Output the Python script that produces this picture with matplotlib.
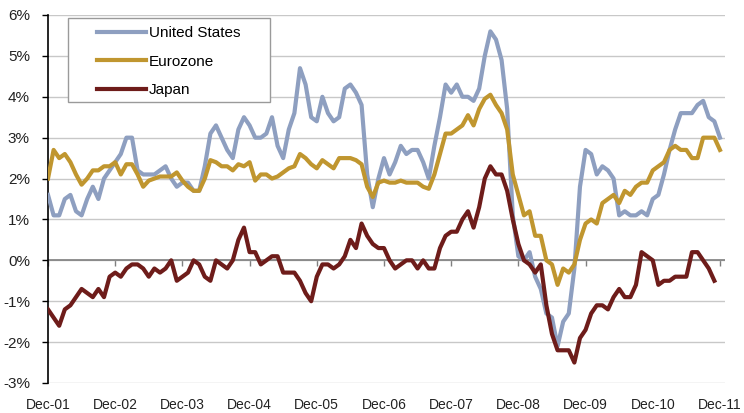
import matplotlib
matplotlib.use("Agg")
import matplotlib.pyplot as plt
from matplotlib.patches import Rectangle
import numpy as np

# monthly year-on-year inflation, Dec-01 .. Dec-11 (%)
us = [1.6,
      1.1, 1.1, 1.5, 1.6, 1.2, 1.1, 1.5, 1.8, 1.5, 2.0, 2.2, 2.4,
      2.6, 3.0, 3.0, 2.2, 2.1, 2.1, 2.1, 2.2, 2.3, 2.0, 1.8, 1.9,
      1.9, 1.7, 1.7, 2.3, 3.1, 3.3, 3.0, 2.7, 2.5, 3.2, 3.5, 3.3,
      3.0, 3.0, 3.1, 3.5, 2.8, 2.5, 3.2, 3.6, 4.7, 4.3, 3.5, 3.4,
      4.0, 3.6, 3.4, 3.5, 4.2, 4.3, 4.1, 3.8, 2.1, 1.3, 2.0, 2.5,
      2.1, 2.4, 2.8, 2.6, 2.7, 2.7, 2.4, 2.0, 2.8, 3.5, 4.3, 4.1,
      4.3, 4.0, 4.0, 3.9, 4.2, 5.0, 5.6, 5.4, 4.9, 3.7, 1.1, 0.1,
      0.0, 0.2, -0.4, -0.7, -1.3, -1.4, -2.1, -1.5, -1.3, -0.2, 1.8, 2.7,
      2.6, 2.1, 2.3, 2.2, 2.0, 1.1, 1.2, 1.1, 1.1, 1.2, 1.1, 1.5,
      1.6, 2.1, 2.7, 3.2, 3.6, 3.6, 3.6, 3.8, 3.9, 3.5, 3.4, 3.0]

eurozone = [2.0,
            2.7, 2.5, 2.6, 2.4, 2.1, 1.85, 2.0, 2.2, 2.2, 2.3, 2.3, 2.4,
            2.1, 2.35, 2.35, 2.1, 1.8, 1.95, 2.0, 2.05, 2.05, 2.05, 2.15, 1.95,
            1.8, 1.7, 1.7, 2.0, 2.45, 2.4, 2.3, 2.3, 2.2, 2.35, 2.3, 2.4,
            1.95, 2.1, 2.1, 2.0, 2.05, 2.15, 2.25, 2.3, 2.6, 2.5, 2.35, 2.25,
            2.45, 2.35, 2.25, 2.5, 2.5, 2.5, 2.45, 2.35, 1.8, 1.55, 1.9, 1.95,
            1.9, 1.9, 1.95, 1.9, 1.9, 1.9, 1.8, 1.75, 2.1, 2.6, 3.1, 3.1,
            3.2, 3.3, 3.55, 3.3, 3.7, 3.95, 4.05, 3.8, 3.6, 3.2, 2.1, 1.6,
            1.1, 1.2, 0.6, 0.6, 0.0, -0.1, -0.6, -0.2, -0.3, -0.1, 0.5, 0.9,
            1.0, 0.9, 1.4, 1.5, 1.6, 1.4, 1.7, 1.6, 1.8, 1.9, 1.9, 2.2,
            2.3, 2.4, 2.7, 2.8, 2.7, 2.7, 2.5, 2.5, 3.0, 3.0, 3.0, 2.7]

japan = [-1.2,
         -1.4, -1.6, -1.2, -1.1, -0.9, -0.7, -0.8, -0.9, -0.7, -0.9, -0.4, -0.3,
         -0.4, -0.2, -0.1, -0.1, -0.2, -0.4, -0.2, -0.3, -0.2, 0.0, -0.5, -0.4,
         -0.3, 0.0, -0.1, -0.4, -0.5, 0.0, -0.1, -0.2, 0.0, 0.5, 0.8, 0.2,
         0.2, -0.1, 0.0, 0.1, 0.1, -0.3, -0.3, -0.3, -0.5, -0.8, -1.0, -0.4,
         -0.1, -0.1, -0.2, -0.1, 0.1, 0.5, 0.3, 0.9, 0.6, 0.4, 0.3, 0.3,
         0.0, -0.2, -0.1, 0.0, 0.0, -0.2, 0.0, -0.2, -0.2, 0.3, 0.6, 0.7,
         0.7, 1.0, 1.2, 0.8, 1.3, 2.0, 2.3, 2.1, 2.1, 1.7, 1.0, 0.4,
         0.0, -0.1, -0.3, -0.1, -1.1, -1.8, -2.2, -2.2, -2.2, -2.5, -1.9, -1.7,
         -1.3, -1.1, -1.1, -1.2, -0.9, -0.7, -0.9, -0.9, -0.6, 0.2, 0.1, 0.0,
         -0.6, -0.5, -0.5, -0.4, -0.4, -0.4, 0.2, 0.2, 0.0, -0.2, -0.5]

tick_labels = ["Dec-01", "Dec-02", "Dec-03", "Dec-04", "Dec-05", "Dec-06",
               "Dec-07", "Dec-08", "Dec-09", "Dec-10", "Dec-11"]

plt.rcParams['font.family'] = ['Liberation Sans', 'DejaVu Sans']

fig = plt.figure(figsize=(7.44, 4.13), dpi=100)
ax = fig.add_axes([48 / 744, 1 - 383 / 413, 677 / 744, 368 / 413])

ax.plot(np.arange(len(us)), us, color='#8E9FC0', lw=3, label='United States', zorder=3)
ax.plot(np.arange(len(eurozone)), eurozone, color='#C0962F', lw=3, label='Eurozone', zorder=4)
ax.plot(np.arange(len(japan)), japan, color='#6E1C1A', lw=3, label='Japan', zorder=5)

ax.set_ylim(-3, 6)
ax.set_xlim(0, 120.9)
ax.set_yticks(range(-3, 7))
ax.set_yticklabels([f"{v}%" for v in range(-3, 7)], fontsize=11, color='#222222')
ax.grid(axis='y', color='#C8C8C8', lw=1)
ax.set_axisbelow(True)
ax.axhline(0, color='#7F7F7F', lw=1.2, zorder=2)

ax.set_xticks(np.arange(0, 121, 12))
ax.set_xticklabels(tick_labels, fontsize=10, color='#222222')
ax.tick_params(axis='x', length=0, pad=11)
ax.tick_params(axis='y', length=4, width=1, direction='out', pad=9)

# small ticks on the zero line
sec = ax.secondary_xaxis(3 / 9)
sec.set_xticks(np.arange(0, 121, 12))
sec.set_xticklabels([])
sec.tick_params(length=4, width=1, color='#7F7F7F', direction='out')
sec.spines['bottom'].set_visible(False)

for s in ['top', 'right', 'bottom']:
    ax.spines[s].set_visible(False)
ax.spines['left'].set_color('black')
ax.spines['left'].set_linewidth(1.2)

# legend box drawn separately so it can be wider than its contents
ax.add_patch(Rectangle((20 / 677, 1 - 87 / 368), 202 / 677, 84 / 368,
                       transform=ax.transAxes, facecolor='white',
                       edgecolor='#9A9A9A', lw=1, zorder=6))
leg = ax.legend(loc='upper left', bbox_to_anchor=(49 / 677, 1 - 11 / 368), borderaxespad=0,
                fontsize=11, handlelength=3.2, handletextpad=0.2, labelspacing=0.95,
                borderpad=0, frameon=False)
leg.set_zorder(7)

fig.savefig('out.png', dpi=100)
